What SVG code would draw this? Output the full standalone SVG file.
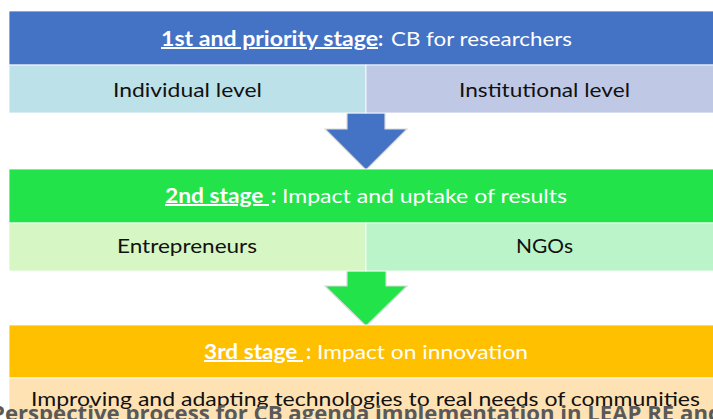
<svg xmlns="http://www.w3.org/2000/svg" width="713" height="419" viewBox="0 0 713 419">
<style>
.t{font-family:Lato,"Open Sans","Liberation Sans",sans-serif;font-size:20px}
.w{fill:#ffffff}
.k{fill:#111111}
.b{font-weight:bold}
.u{text-decoration:underline}
.box{stroke:#ffffff;stroke-width:0.8}
.arrow{stroke:#d9d9d9;stroke-width:1.2}
.cap{font-family:"Open Sans",Lato,"Liberation Sans",sans-serif;font-size:21px;font-weight:bold;fill:#595959}
</style>
<rect width="713" height="419" fill="#ffffff"/>
<g id="connectors">
<polygon class="arrow" fill="#4472C4" points="347,113 385,113 385,129 407,129 366,170 325,129 347,129"/>
<polygon class="arrow" fill="#23E34B" points="347,271 386,271 386,286 407,286 366,326 325,286 347,286"/>
</g>
<g id="stage1">
<rect class="box" x="9" y="11" width="710" height="54" fill="#4472C4"/>
<text class="t w" y="46"><tspan class="b u" x="161" textLength="217" lengthAdjust="spacingAndGlyphs">1st and priority stage</tspan><tspan class="b" x="378">:</tspan><tspan x="391" textLength="181" lengthAdjust="spacingAndGlyphs">CB for researchers</tspan></text>
</g>
<g id="individual">
<rect class="box" x="9" y="65" width="357" height="48" fill="#BDE1E9"/>
<text class="t k" x="113" y="97" textLength="149" lengthAdjust="spacingAndGlyphs">Individual level</text>
</g>
<g id="institutional">
<rect class="box" x="366" y="65" width="353" height="48" fill="#BFC9E5"/>
<text class="t k" x="459" y="97" textLength="171" lengthAdjust="spacingAndGlyphs">Institutional level</text>
</g>
<g id="stage2">
<rect class="box" x="9" y="169" width="710" height="54" fill="#23E34B"/>
<text class="t w" y="203"><tspan class="b u" x="165" textLength="104" lengthAdjust="spacingAndGlyphs">2nd stage </tspan><tspan class="b" x="271">:</tspan><tspan x="282" textLength="285" lengthAdjust="spacingAndGlyphs">Impact and uptake of results</tspan></text>
</g>
<g id="entrepreneurs">
<rect class="box" x="9" y="223" width="357" height="48" fill="#D6F6C3"/>
<text class="t k" x="117" y="253" textLength="140" lengthAdjust="spacingAndGlyphs">Entrepreneurs</text>
</g>
<g id="ngos">
<rect class="box" x="366" y="223" width="353" height="48" fill="#BBF4C9"/>
<text class="t k" x="516" y="253" textLength="57" lengthAdjust="spacingAndGlyphs">NGOs</text>
</g>
<g id="stage3">
<rect class="box" x="9" y="325" width="710" height="53" fill="#FFC000"/>
<text class="t w" y="359"><tspan class="b u" x="204" textLength="99" lengthAdjust="spacingAndGlyphs">3rd stage </tspan><tspan class="b" x="306">:</tspan><tspan x="317" textLength="211" lengthAdjust="spacingAndGlyphs">Impact on innovation</tspan></text>
</g>
<g id="innovation">
<rect class="box" x="9" y="378" width="710" height="50" fill="#FEE2B4"/>
<text class="t k" x="31" y="406" textLength="669" lengthAdjust="spacingAndGlyphs">Improving and adapting technologies to real needs of communities</text>
</g>
<text class="cap" x="-9" y="421" textLength="731" lengthAdjust="spacingAndGlyphs">Perspective process for CB agenda implementation in LEAP RE and</text>
</svg>
